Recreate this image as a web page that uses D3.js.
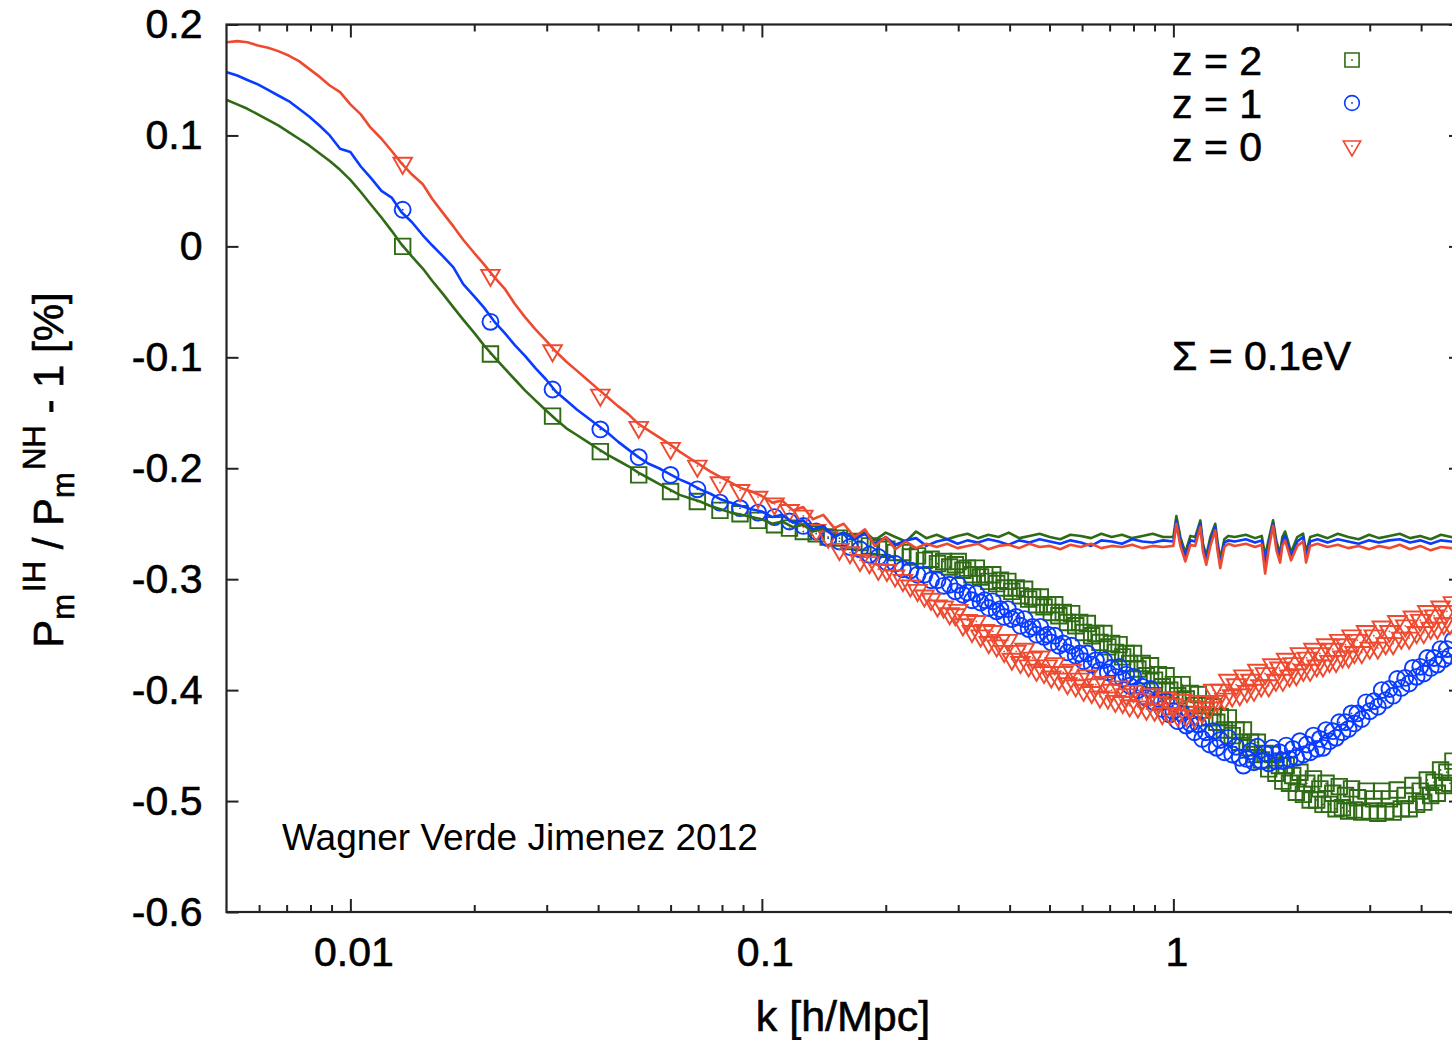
<!DOCTYPE html>
<html><head><meta charset="utf-8">
<script src="https://cdn.jsdelivr.net/npm/d3@7"></script>
<style>
body{margin:0;background:#fff;}
svg{display:block;}
text{font-family:"Liberation Sans",Arial,Helvetica,sans-serif;fill:#000;}
</style></head><body>
<svg id="c" width="1452" height="1040"></svg>
<script>
// ---------------- data ----------------
const yTicks = [0.2,0.1,0,-0.1,-0.2,-0.3,-0.4,-0.5,-0.6];
const yTickLabels = ["0.2","0.1","0","-0.1","-0.2","-0.3","-0.4","-0.5","-0.6"];
const xMajorTicks = [0.01,0.1,1];
const xTickLabels = ["0.01","0.1","1"];
const xMinorTicks = [0.006,0.007,0.008,0.009,0.02,0.03,0.04,0.05,0.06,0.07,0.08,0.09,
                     0.2,0.3,0.4,0.5,0.6,0.7,0.8,0.9,2,3,4];
const seriesNames = ["z = 2","z = 1","z = 0"];
const noteText = "\u03A3 = 0.1eV";
const creditText = "Wagner Verde Jimenez 2012";

// solid lines (simulation ratio), k in h/Mpc
const kLine = [0.00501,0.00531,0.00562,0.00596,0.00631,0.00668,0.00708,0.0075,0.00794,0.00841,
0.00891,0.00944,0.01,0.0106,0.0112,0.0119,0.0126,0.0133,0.0141,0.015,
0.0158,0.0168,0.0178,0.0188,0.02,0.0211,0.0224,0.0237,0.0251,0.0266,
0.0282,0.0299,0.0316,0.0335,0.0355,0.0376,0.0398,0.0422,0.0447,0.0473,
0.0501,0.0531,0.0562,0.0596,0.0631,0.0668,0.0708,0.075,0.0794,0.0841,
0.0891,0.0944,0.1,0.106,0.112,0.119,0.126,0.133,0.141,0.15,
0.158,
0.168,0.178,0.188,0.2,0.211,0.224,0.237,0.251,0.266,0.282,
0.299,0.316,0.335,0.355,0.376,0.398,0.422,0.447,0.473,0.501,
0.531,0.562,0.596,0.631,0.668,0.708,0.75,0.794,0.841,0.891,0.944,
1.0,1.017,1.04,1.069,1.1,1.13,1.163,1.18,1.202,1.23,
1.264,1.28,1.3,1.33,1.359,1.41,1.5,1.58,1.64,1.671,
1.71,1.747,1.78,1.817,1.84,1.868,1.9,1.932,2.0,2.067,
2.085,2.101,2.15,2.24,2.37,2.51,2.66,2.82,2.99,3.16,
3.35,3.55,3.76,3.98,4.22,4.47,4.73,5.01];

const lineZ2 = [0.132,0.128,0.124,0.119,0.114,0.109,0.103,0.097,0.091,0.084,
0.077,0.069,0.060,0.049,0.038,0.026,0.014,0.002,-0.009,-0.020,
-0.031,-0.043,-0.055,-0.066,-0.078,-0.089,-0.100,-0.110,-0.120,-0.130,
-0.139,-0.148,-0.156,-0.164,-0.170,-0.176,-0.182,-0.188,-0.193,-0.198,
-0.204,-0.209,-0.214,-0.219,-0.224,-0.227,-0.230,-0.234,-0.237,-0.240,
-0.242,-0.244,-0.246,-0.250,-0.248,-0.253,-0.251,-0.257,-0.254,-0.261,
-0.258,
-0.262,-0.257,-0.265,-0.258,-0.262,-0.266,-0.257,-0.263,-0.260,-0.264,
-0.261,-0.259,-0.263,-0.260,-0.262,-0.258,-0.263,-0.261,-0.259,-0.262,
-0.264,-0.260,-0.261,-0.263,-0.259,-0.262,-0.260,-0.263,-0.261,-0.259,-0.262,
-0.262,-0.243,-0.262,-0.276,-0.261,-0.262,-0.247,-0.268,-0.279,-0.262,
-0.250,-0.266,-0.282,-0.264,-0.261,-0.262,-0.260,-0.263,-0.261,-0.279,
-0.262,-0.247,-0.266,-0.277,-0.262,-0.257,-0.266,-0.276,-0.262,-0.259,
-0.268,-0.276,-0.262,-0.260,-0.263,-0.259,-0.262,-0.264,-0.260,-0.263,
-0.261,-0.259,-0.263,-0.261,-0.264,-0.260,-0.262,-0.263];

const lineZ1 = [0.157,0.154,0.150,0.146,0.141,0.136,0.131,0.124,0.117,0.109,
0.100,0.088,0.085,0.072,0.062,0.050,0.044,0.031,0.022,0.010,
0.001,-0.009,-0.019,-0.034,-0.045,-0.055,-0.068,-0.078,-0.089,-0.099,
-0.110,-0.120,-0.131,-0.139,-0.147,-0.154,-0.161,-0.168,-0.176,-0.183,
-0.190,-0.196,-0.200,-0.205,-0.210,-0.214,-0.219,-0.223,-0.228,-0.231,
-0.234,-0.237,-0.239,-0.244,-0.242,-0.249,-0.247,-0.255,-0.252,-0.262,
-0.258,
-0.264,-0.259,-0.268,-0.262,-0.269,-0.265,-0.263,-0.270,-0.266,-0.264,
-0.268,-0.265,-0.267,-0.264,-0.266,-0.269,-0.265,-0.267,-0.264,-0.266,
-0.268,-0.265,-0.267,-0.270,-0.265,-0.266,-0.268,-0.264,-0.266,-0.267,-0.265,
-0.266,-0.247,-0.266,-0.280,-0.265,-0.266,-0.250,-0.271,-0.283,-0.266,
-0.253,-0.270,-0.287,-0.267,-0.265,-0.266,-0.264,-0.267,-0.265,-0.286,
-0.266,-0.250,-0.270,-0.282,-0.266,-0.261,-0.270,-0.280,-0.266,-0.262,
-0.271,-0.280,-0.266,-0.264,-0.267,-0.264,-0.266,-0.268,-0.265,-0.267,
-0.265,-0.264,-0.267,-0.265,-0.268,-0.265,-0.266,-0.267];

const lineZ0 = [0.184,0.185,0.184,0.181,0.179,0.176,0.172,0.167,0.160,0.153,
0.145,0.139,0.128,0.119,0.107,0.097,0.086,0.075,0.065,0.056,
0.043,0.030,0.018,0.006,-0.006,-0.016,-0.028,-0.038,-0.052,-0.064,
-0.075,-0.085,-0.095,-0.104,-0.112,-0.120,-0.128,-0.136,-0.144,-0.151,
-0.160,-0.166,-0.172,-0.178,-0.185,-0.191,-0.197,-0.203,-0.208,-0.213,
-0.218,-0.221,-0.225,-0.231,-0.229,-0.238,-0.235,-0.246,-0.242,-0.254,
-0.250,
-0.262,-0.255,-0.270,-0.262,-0.273,-0.266,-0.272,-0.268,-0.271,-0.268,
-0.272,-0.270,-0.268,-0.273,-0.270,-0.269,-0.272,-0.268,-0.271,-0.270,
-0.273,-0.269,-0.271,-0.268,-0.272,-0.270,-0.271,-0.269,-0.272,-0.270,-0.271,
-0.270,-0.250,-0.270,-0.284,-0.269,-0.270,-0.253,-0.275,-0.287,-0.270,
-0.256,-0.274,-0.290,-0.271,-0.268,-0.270,-0.268,-0.271,-0.269,-0.295,
-0.270,-0.252,-0.274,-0.285,-0.270,-0.265,-0.274,-0.283,-0.270,-0.266,
-0.275,-0.285,-0.270,-0.268,-0.271,-0.269,-0.272,-0.270,-0.273,-0.270,
-0.272,-0.269,-0.273,-0.270,-0.274,-0.271,-0.272,-0.274];

// symbols (linear-theory prediction), shared k bins
const kBins = [0.0134,0.0219,0.031,0.0405,0.0502,0.06,0.0697,0.0791,0.0885,0.0979,
0.1073,0.1167,0.1261,0.1355,0.1449,0.1543,0.1637,0.1731,0.1825,0.1919,
0.2013,0.2107,0.2201,0.2295,0.2389,0.2483,0.2577,0.2671,0.2765,0.2859,0.2953,
0.300,0.308,0.316,0.324,0.332,0.340,0.348,0.356,0.364,0.372,0.380,0.388,0.396,
0.405,0.415,0.425,0.435,0.445,0.455,0.465,0.475,0.485,0.495,0.505,0.515,
0.527,0.540,0.553,0.566,0.579,0.592,0.605,0.618,
0.633,0.648,0.663,0.678,0.693,0.708,0.723,0.738,0.753,0.768,0.783,
0.80,0.82,0.84,0.86,0.88,0.90,0.92,0.94,0.96,0.98,
1.000,1.025,1.050,1.075,1.100,1.125,1.150,1.175,1.200,1.225,1.250,1.275,1.300,
1.33,1.36,1.39,1.42,1.45,1.48,1.51,1.54,1.57,1.60,
1.635,1.670,1.705,1.740,1.775,1.810,1.845,1.880,1.915,1.950,
1.99,2.03,2.07,2.11,2.15,2.19,2.23,2.27,2.31,2.35,
2.395,2.440,2.485,2.530,2.575,2.620,2.665,2.710,2.755,2.800,
2.87,2.94,3.0,3.07,3.14,3.21,3.28,3.35,3.42,3.5,3.58,3.66,3.74,3.82,3.9,3.98,
4.06,4.14,4.22,4.3,4.38,4.46,4.54,4.62,4.7,4.78];

const ptsZ2 = [0.000,-0.097,-0.153,-0.185,-0.206,-0.221,-0.230,-0.238,-0.241,-0.247,
-0.251,-0.254,-0.257,-0.259,-0.262,-0.263,-0.266,-0.267,-0.270,-0.271,
-0.273,-0.276,-0.276,-0.280,-0.279,-0.283,-0.282,-0.286,-0.284,-0.289,-0.287,
-0.284,-0.292,-0.290,-0.296,-0.290,-0.298,-0.296,-0.302,-0.296,-0.304,-0.301,-0.308,-0.302,
-0.311,-0.308,-0.315,-0.309,-0.318,-0.316,-0.323,-0.316,-0.325,-0.323,-0.330,-0.323,
-0.333,-0.330,-0.339,-0.331,-0.342,-0.339,-0.348,-0.340,
-0.351,-0.349,-0.357,-0.349,-0.361,-0.358,-0.366,-0.359,-0.370,-0.367,-0.376,
-0.367,-0.381,-0.376,-0.387,-0.378,-0.391,-0.386,-0.397,-0.387,-0.400,
-0.395,-0.405,-0.395,-0.408,-0.403,-0.414,-0.404,-0.418,-0.414,-0.425,-0.415,-0.429,-0.424,
-0.436,-0.425,-0.441,-0.436,-0.447,-0.436,-0.452,-0.447,-0.458,-0.447,
-0.463,-0.457,-0.471,-0.458,-0.475,-0.468,-0.482,-0.468,-0.484,-0.477,
-0.492,-0.474,-0.494,-0.484,-0.499,-0.480,-0.499,-0.489,-0.503,-0.484,
-0.503,-0.493,-0.507,-0.487,-0.506,-0.495,-0.509,-0.489,-0.508,-0.497,
-0.510,-0.491,-0.509,-0.498,-0.511,-0.491,-0.509,-0.498,-0.510,-0.490,-0.507,-0.495,-0.507,-0.486,-0.503,-0.491,
-0.501,-0.481,-0.495,-0.483,-0.493,-0.472,-0.486,-0.474,-0.484,-0.464];

const ptsZ1 = [0.033,-0.068,-0.129,-0.165,-0.190,-0.206,-0.219,-0.231,-0.236,-0.240,
-0.244,-0.248,-0.252,-0.257,-0.263,-0.266,-0.271,-0.273,-0.278,-0.280,
-0.285,-0.286,-0.291,-0.292,-0.296,-0.296,-0.301,-0.301,-0.306,-0.305,-0.311,
-0.305,-0.314,-0.312,-0.319,-0.313,-0.321,-0.319,-0.326,-0.320,-0.329,-0.327,-0.334,-0.327,
-0.336,-0.334,-0.342,-0.336,-0.345,-0.343,-0.350,-0.343,-0.352,-0.350,-0.357,-0.351,
-0.360,-0.358,-0.366,-0.360,-0.369,-0.367,-0.374,-0.367,
-0.377,-0.373,-0.382,-0.373,-0.384,-0.380,-0.388,-0.379,-0.390,-0.386,-0.396,
-0.388,-0.400,-0.397,-0.407,-0.399,-0.411,-0.408,-0.417,-0.410,-0.422,
-0.419,-0.428,-0.421,-0.432,-0.430,-0.438,-0.431,-0.444,-0.438,-0.449,-0.437,-0.452,-0.445,
-0.456,-0.443,-0.458,-0.451,-0.461,-0.468,-0.462,-0.455,-0.465,-0.451,
-0.464,-0.457,-0.466,-0.452,-0.464,-0.456,-0.464,-0.450,-0.462,-0.453,
-0.461,-0.446,-0.458,-0.449,-0.456,-0.441,-0.453,-0.444,-0.452,-0.436,
-0.446,-0.437,-0.443,-0.429,-0.438,-0.429,-0.435,-0.421,-0.430,-0.421,
-0.426,-0.411,-0.419,-0.410,-0.415,-0.400,-0.409,-0.399,-0.405,-0.390,-0.398,-0.389,-0.394,-0.380,-0.388,-0.379,
-0.385,-0.371,-0.380,-0.371,-0.377,-0.363,-0.372,-0.363,-0.369,-0.355];

const ptsZ0 = [0.075,-0.026,-0.094,-0.134,-0.163,-0.182,-0.198,-0.213,-0.220,-0.226,
-0.232,-0.238,-0.243,-0.256,-0.262,-0.273,-0.276,-0.283,-0.285,-0.291,
-0.292,-0.297,-0.301,-0.306,-0.310,-0.315,-0.318,-0.324,-0.325,-0.331,-0.332,
-0.328,-0.341,-0.337,-0.347,-0.338,-0.351,-0.346,-0.357,-0.347,-0.360,-0.355,-0.365,-0.355,
-0.372,-0.365,-0.375,-0.363,-0.378,-0.371,-0.382,-0.370,-0.384,-0.378,-0.388,-0.376,
-0.390,-0.384,-0.394,-0.382,-0.396,-0.390,-0.400,-0.387,
-0.402,-0.395,-0.406,-0.393,-0.407,-0.400,-0.410,-0.397,-0.411,-0.404,-0.414,
-0.401,-0.415,-0.408,-0.417,-0.404,-0.418,-0.411,-0.421,-0.407,-0.421,
-0.413,-0.423,-0.409,-0.423,-0.415,-0.424,-0.410,-0.420,-0.410,-0.416,-0.400,-0.410,-0.400,
-0.408,-0.391,-0.405,-0.395,-0.404,-0.387,-0.401,-0.391,-0.400,-0.382,
-0.396,-0.385,-0.396,-0.377,-0.391,-0.380,-0.391,-0.372,-0.387,-0.376,
-0.386,-0.367,-0.382,-0.371,-0.382,-0.363,-0.378,-0.367,-0.378,-0.359,
-0.374,-0.363,-0.374,-0.355,-0.370,-0.359,-0.370,-0.351,-0.366,-0.355,
-0.366,-0.347,-0.362,-0.351,-0.362,-0.343,-0.358,-0.347,-0.358,-0.338,-0.353,-0.342,-0.353,-0.334,-0.348,-0.337,
-0.348,-0.329,-0.344,-0.333,-0.344,-0.325,-0.340,-0.329,-0.340,-0.321];

// ---------------- drawing ----------------
const colors = {z2:"#2f6b14", z1:"#0a3cff", z0:"#ee4a30"};
const svg = d3.select("#c");
const L = 226.5, R = 1461, T = 24.5, B = 912;
const x = d3.scaleLog().domain([0.005, 5]).range([L, R]);
const y = d3.scaleLinear().domain([-0.6, 0.2]).range([B, T]);

svg.append("defs").append("clipPath").attr("id","pc")
  .append("rect").attr("x",L).attr("y",T).attr("width",R-L).attr("height",B-T);

const plot = svg.append("g").attr("clip-path","url(#pc)");

const symbolType = {z2:d3.symbolSquare, z1:d3.symbolCircle, z0:d3.symbolTriangle};
const symbolSize = {z2:240, z1:200, z0:150};
const symRot = {z2:0, z1:0, z0:180};

function drawPoints(key, vals){
  const data = d3.zip(kBins, vals);
  const g = plot.append("g");
  g.selectAll("path").data(data).join("path")
    .attr("d", d3.symbol().type(symbolType[key]).size(symbolSize[key])())
    .attr("transform", d => `translate(${x(d[0])},${y(d[1])}) rotate(${symRot[key]})`)
    .attr("fill","none").attr("stroke", colors[key]).attr("stroke-width",1.9);
  g.selectAll("circle").data(data).join("circle")
    .attr("cx", d => x(d[0])).attr("cy", d => y(d[1])).attr("r",0.9)
    .attr("fill", colors[key]);
}
drawPoints("z2", ptsZ2);
drawPoints("z1", ptsZ1);
drawPoints("z0", ptsZ0);

const line = d3.line().x(d => x(d[0])).y(d => y(d[1]));
[["z2",lineZ2],["z1",lineZ1],["z0",lineZ0]].forEach(([key, vals]) => {
  plot.append("path").datum(d3.zip(kLine, vals))
    .attr("d", line).attr("fill","none")
    .attr("stroke", colors[key]).attr("stroke-width",2.6)
    .attr("stroke-linejoin","round");
});

// axes (ticks inward, mirrored)
const axStyle = g => { g.select(".domain").remove();
  g.selectAll(".tick line").attr("stroke","#222").attr("stroke-width",2); };
const labStyle = g => g.selectAll("text").attr("font-size",41).attr("fill","#000")
  .attr("stroke","#000").attr("stroke-width",0.6)
  .attr("font-family","'Liberation Sans',Arial,sans-serif");

svg.append("g").attr("transform",`translate(0,${B})`)
  .call(d3.axisBottom(x).tickValues(xMajorTicks).tickSize(-13).tickPadding(25)
    .tickFormat((d,i) => xTickLabels[i]))
  .call(axStyle).call(labStyle)
  .call(g => g.selectAll("text").attr("dx",3));
svg.append("g").attr("transform",`translate(0,${B})`)
  .call(d3.axisBottom(x).tickValues(xMinorTicks).tickSize(-7).tickFormat(""))
  .call(axStyle);
svg.append("g").attr("transform",`translate(0,${T})`)
  .call(d3.axisTop(x).tickValues(xMajorTicks).tickSize(-13).tickFormat(""))
  .call(axStyle);
svg.append("g").attr("transform",`translate(0,${T})`)
  .call(d3.axisTop(x).tickValues(xMinorTicks).tickSize(-7).tickFormat(""))
  .call(axStyle);
svg.append("g").attr("transform",`translate(${L},0)`)
  .call(d3.axisLeft(y).tickValues(yTicks).tickSize(-12).tickPadding(24)
    .tickFormat((d,i) => yTickLabels[i]))
  .call(axStyle).call(labStyle);
svg.append("g").attr("transform",`translate(${R},0)`)
  .call(d3.axisRight(y).tickValues(yTicks).tickSize(-12).tickFormat(""))
  .call(axStyle);

svg.append("rect").attr("x",L).attr("y",T).attr("width",R-L).attr("height",B-T)
  .attr("fill","none").attr("stroke","#222").attr("stroke-width",2.2);

// axis titles
svg.append("text").attr("x",843).attr("y",1031).attr("text-anchor","middle")
  .attr("font-size",43).attr("stroke","#000").attr("stroke-width",0.6).text("k [h/Mpc]");

const yt = svg.append("text").attr("transform","translate(63,470) rotate(-90)")
  .attr("text-anchor","middle").attr("font-size",42)
  .attr("stroke","#000").attr("stroke-width",0.6);
yt.append("tspan").text("P");
yt.append("tspan").attr("font-size",31).attr("dy",11).text("m");
yt.append("tspan").attr("font-size",31).attr("dy",-29).attr("dx",2).text("IH");
yt.append("tspan").attr("dy",18).text(" / P");
yt.append("tspan").attr("font-size",31).attr("dy",11).text("m");
yt.append("tspan").attr("font-size",31).attr("dy",-29).attr("dx",2).text("NH");
yt.append("tspan").attr("dy",18).text(" - 1 [%]");

// legend
const legY = [60, 103, 146];
const legKeys = ["z2","z1","z0"];
const legSize = {z2:200, z1:170, z0:130};
legKeys.forEach((key,i) => {
  svg.append("text").attr("x",1172).attr("y",legY[i]+15).attr("font-size",41)
    .attr("stroke","#000").attr("stroke-width",0.6).text(seriesNames[i]);
  svg.append("path").attr("d", d3.symbol().type(symbolType[key]).size(legSize[key])())
    .attr("transform",`translate(1352,${legY[i]}) rotate(${symRot[key]})`)
    .attr("fill","none").attr("stroke",colors[key]).attr("stroke-width",1.6);
  svg.append("circle").attr("cx",1352).attr("cy",legY[i]).attr("r",0.9).attr("fill",colors[key]);
});

svg.append("text").attr("x",1172).attr("y",370).attr("font-size",41)
  .attr("stroke","#000").attr("stroke-width",0.6).text(noteText);
svg.append("text").attr("x",282).attr("y",850).attr("font-size",37).text(creditText);
</script>
</body></html>
